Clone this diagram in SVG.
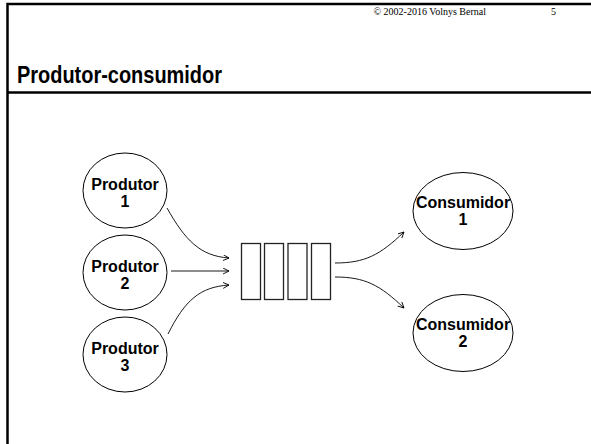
<svg xmlns="http://www.w3.org/2000/svg" width="591" height="444" viewBox="0 0 591 444">
<style>
.frame{stroke:#000;stroke-width:2.5;fill:none}
.node ellipse{fill:#fff;stroke:#000;stroke-width:1}
.lbl{font-family:"Liberation Sans",Arial,sans-serif;font-weight:bold;font-size:16px;text-anchor:middle;fill:#000}
.q rect{fill:#fff;stroke:#222;stroke-width:1.3}
.conn path{fill:none;stroke:#000;stroke-width:0.9;marker-end:url(#arr)}
.hdr{font-family:"Liberation Serif","Times New Roman",serif;font-size:10px;fill:#000}
.title{font-family:"Liberation Sans",Arial,sans-serif;font-weight:bold;font-size:23.5px;fill:#000}
</style>
<defs>
<marker id="arr" markerUnits="userSpaceOnUse" markerWidth="8" markerHeight="8" refX="6" refY="3" orient="auto">
<path d="M0,0 L6,3 L0,6" fill="none" stroke="#000" stroke-width="0.9"/>
</marker>
</defs>
<rect width="591" height="444" fill="#fff"/>
<g id="frame">
<path class="frame" d="M7.5,444 V4 H591"/>
<path class="frame" d="M7.5,92.5 H591"/>
</g>
<g id="header">
<text class="hdr" x="486" y="15" text-anchor="end">© 2002-2016 Volnys Bernal</text>
<text class="hdr" x="551" y="15">5</text>
<text class="title" x="17" y="83" textLength="205" lengthAdjust="spacingAndGlyphs">Produtor-consumidor</text>
</g>
<g class="conn" id="connectors">
<path d="M167,208 C185,240 200,256 229,258"/>
<path d="M171,271 L229,271"/>
<path d="M168,334 C185,300 200,287 229,285"/>
<path d="M335,263 C365,263 380,255 404,232"/>
<path d="M335,277 C365,277 380,285 404,308"/>
</g>
<g class="node" id="produtor1">
<ellipse cx="125" cy="190.5" rx="42" ry="37.5"/>
<text class="lbl" x="125" y="190">Produtor</text>
<text class="lbl" x="125" y="207">1</text>
</g>
<g class="node" id="produtor2">
<ellipse cx="125" cy="272.5" rx="42" ry="37.5"/>
<text class="lbl" x="125" y="272">Produtor</text>
<text class="lbl" x="125" y="289">2</text>
</g>
<g class="node" id="produtor3">
<ellipse cx="125" cy="354.5" rx="42" ry="37.5"/>
<text class="lbl" x="125" y="354">Produtor</text>
<text class="lbl" x="125" y="371">3</text>
</g>
<g class="q" id="fila">
<rect x="241.5" y="243.5" width="19" height="56"/>
<rect x="264.5" y="243.5" width="19" height="56"/>
<rect x="288" y="243.5" width="19" height="56"/>
<rect x="311.5" y="243.5" width="19" height="56"/>
</g>
<g class="node" id="consumidor1">
<ellipse cx="463" cy="211" rx="50" ry="38.5"/>
<text class="lbl" x="463" y="208">Consumidor</text>
<text class="lbl" x="463" y="225">1</text>
</g>
<g class="node" id="consumidor2">
<ellipse cx="463" cy="333" rx="50" ry="38.5"/>
<text class="lbl" x="463" y="330">Consumidor</text>
<text class="lbl" x="463" y="347">2</text>
</g>
</svg>
